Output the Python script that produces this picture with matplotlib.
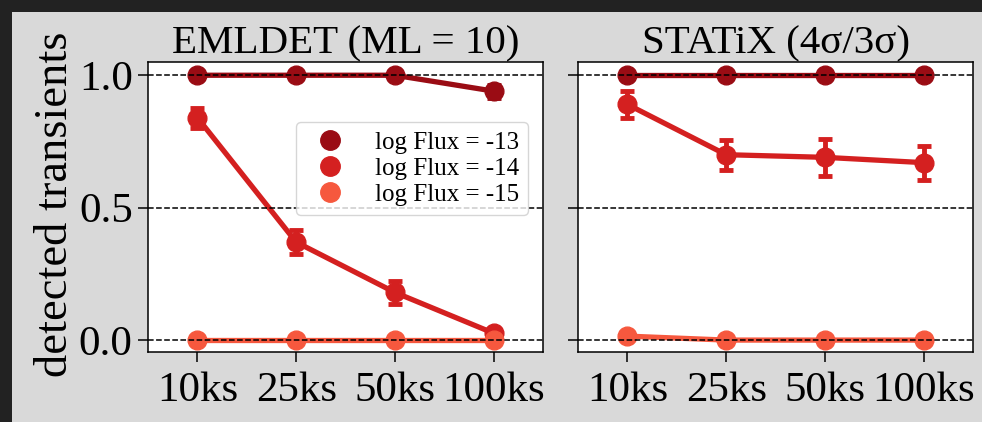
import numpy as np
import matplotlib
matplotlib.use("Agg")
import matplotlib.pyplot as plt
from matplotlib.patches import Rectangle
from matplotlib.lines import Line2D

plt.rcParams['font.family'] = ['Liberation Serif', 'DejaVu Serif']

exposures = ['10ks', '25ks', '50ks', '100ks']
flux_labels = ['log Flux = -13', 'log Flux = -14', 'log Flux = -15']
colors = ['#9a0c14', '#d42020', '#f6583e']

# EMLDET (ML = 10): fraction of detected transients and error bars
eml_m13 = [1.0, 1.0, 1.0, 0.94]
eml_m13_err = [0.0, 0.0, 0.0, 0.025]
eml_m14 = [0.84, 0.37, 0.18, 0.026]
eml_m14_err = [0.038, 0.045, 0.043, 0.01]
eml_m15 = [0.0, 0.0, 0.0, 0.0]
eml_m15_err = [0.0, 0.0, 0.0, 0.0]

# STATiX (4sigma/3sigma)
stx_m13 = [1.0, 1.0, 1.0, 1.0]
stx_m13_err = [0.0, 0.0, 0.0, 0.0]
stx_m14 = [0.89, 0.70, 0.69, 0.67]
stx_m14_err = [0.05, 0.057, 0.07, 0.064]
stx_m15 = [0.015, 0.0, 0.0, 0.0]
stx_m15_err = [0.005, 0.0, 0.0, 0.0]

panels = [
    ('EMLDET (ML = 10)', [eml_m13, eml_m14, eml_m15], [eml_m13_err, eml_m14_err, eml_m15_err]),
    ('STATiX (4σ/3σ)', [stx_m13, stx_m14, stx_m15], [stx_m13_err, stx_m14_err, stx_m15_err]),
]

fig = plt.figure(figsize=(9.82, 4.22), dpi=100, facecolor='#d9d9d9')
# dark frame along the top and left edges
fig.patches.append(Rectangle((0, 1 - 12/422), 1, 12/422, transform=fig.transFigure,
                             facecolor='#222222', edgecolor='none', zorder=-1))
fig.patches.append(Rectangle((0, 0), 12/982, 1, transform=fig.transFigure,
                             facecolor='#222222', edgecolor='none', zorder=-1))

axes = [fig.add_axes([148/982, 70/422, 395/982, 290/422]),
        fig.add_axes([578/982, 70/422, 395/982, 290/422])]

x = np.arange(len(exposures))
for ax, (title, series, errs) in zip(axes, panels):
    for vals, err, col, lab in zip(series, errs, colors, flux_labels):
        ax.errorbar(x, vals, yerr=err, color=col, lw=3.8, marker='o', ms=13.5,
                    capsize=5, capthick=3.5, elinewidth=3.5, label=lab)
    for yv in [0.0, 0.5, 1.0]:
        ax.axhline(yv, color='k', ls='--', lw=1.1, zorder=4)
    ax.set_xlim(-0.5, 3.5)
    ax.set_ylim(-0.045, 1.05)
    ax.set_xticks(x)
    ax.set_xticklabels(exposures)
    ax.set_yticks([0.0, 0.5, 1.0])
    ax.tick_params(labelsize=31, length=7, width=1.1, pad=4)
    ax.tick_params(axis='x', pad=7)
    ax.set_title(title, fontsize=29.5, pad=5)
    for sp in ax.spines.values():
        sp.set_linewidth(1.1)

axes[1].set_yticklabels([])
axes[0].set_ylabel('detected transients', fontsize=33.5)
axes[0].yaxis.set_label_coords(-0.18, 0.51)

handles = [Line2D([], [], ls='', marker='o', ms=14, color=c) for c in colors]
axes[0].legend(handles, flux_labels, loc='upper right', bbox_to_anchor=(0.993, 0.835),
               fontsize=18, handlelength=2.0, handletextpad=0.8, labelspacing=0.15,
               borderpad=0.35, framealpha=0.8, edgecolor='#cccccc')

fig.savefig('out.png', dpi=100, facecolor=fig.get_facecolor())
